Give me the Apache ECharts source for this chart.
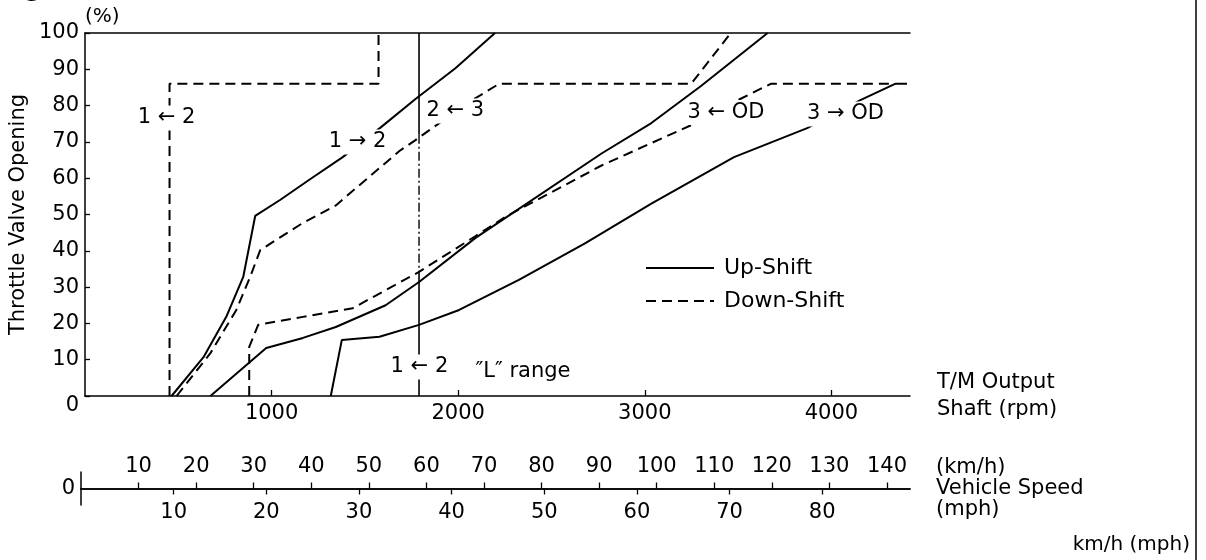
<!DOCTYPE html>
<html><head><meta charset="utf-8">
<script src="https://cdn.jsdelivr.net/npm/echarts@6/dist/echarts.min.js"></script>
<style>html,body{margin:0;padding:0;background:#fff}#c{width:1206px;height:560px}</style>
</head><body><div id="c"></div>
<script>
// ---- tick labels ----
const rpmTicks = [1000, 2000, 3000, 4000];
const kmhTicks = [10, 20, 30, 40, 50, 60, 70, 80, 90, 100, 110, 120, 130, 140];
const mphTicks = [10, 20, 30, 40, 50, 60, 70, 80];
const RPM_MAX = 4421;
const KMH_MAX = 144;
const MPH_MAX = KMH_MAX / 1.609344;

// ---- shift lines: [rpm, throttle %] ----
const up12 = [[464,0],[635,10.7],[757,21.8],[848,32.8],[912,49.6],[1045,54],[1200,59.5],[1381,65.8],[1585,74],[1771,81.8],[1985,90.3],[2197,100]];
const up23 = [[672,0],[971,13.2],[1168,16],[1344,19],[1611,25],[1790,31.4],[2091,43.5],[2251,49],[2768,66.8],[3035,75.2],[3301,85.4],[3658,100]];
const up3od = [[1317,0],[1376,15.4],[1578,16.3],[1790,19.6],[2005,23.7],[2325,32],[2677,42],[3035,53],[3478,65.8],[3870,73.8],[4155,81.5],[4341,86],[4405,86]];
const dn12 = [[453,0],[453,86],[1573,86],[1573,100]];
const dn23 = [[491,0],[672,11.8],[811,23.7],[885,32.8],[939,40.2],[1168,47.7],[1344,52.5],[1685,67.5],[1771,70.5],[1861,73.8],[2091,82],[2219,86],[3248,86],[3461,100]];
const dn3od = [[880,0],[880,13.5],[928,19.6],[1168,21.8],[1435,24.2],[1790,34.2],[2091,44],[2251,49.3],[2768,63.5],[3265,75],[3498,81.5],[3675,86],[4330,86]];
const lRangeTop = [[1790,100],[1790,72]];
const lRangeMid = [[1790,72],[1790,34.5]];
const lRangeLow = [[1790,34.5],[1790,0]];

// ---- curve annotations: [rpm, %, text] ----
const curveLabels = [
  [437, 76.6, '1 ← 2'],
  [1461, 70, '1 → 2'],
  [1984, 78.5, '2 ← 3'],
  [3435, 78.1, '3 ← OD'],
  [4075, 77.7, '3 → OD'],
  [1792, 8, '1 ← 2'],
  [2347, 6.6, '″L″ range']
];

const FONT = 'DejaVu Sans';
const INK = '#000';
const LW = 2;
const DASH = [10, 6];
const FS = 21;

function lineSeries(name, data, type) {
  return {
    type: 'line', name: name, data: data, xAxisIndex: 0, yAxisIndex: 0,
    symbol: 'none', silent: true, animation: false, z: 3,
    itemStyle: { color: 'rgba(0,0,0,0)' },
    lineStyle: { color: INK, width: LW, type: type }
  };
}

const chart = echarts.init(document.getElementById('c'), null, { renderer: 'canvas' });
chart.setOption({
  backgroundColor: '#fff',
  animation: false,
  textStyle: { fontFamily: FONT, color: INK },
  title: {
    text: 'km/h (mph)', right: 16, top: 535, padding: 0,
    textStyle: { fontFamily: FONT, fontSize: 20, fontWeight: 'normal', color: INK }
  },
  legend: {
    data: ['Up-Shift', 'Down-Shift'], orient: 'vertical', left: 640, top: 252,
    itemWidth: 68, itemHeight: 14, itemGap: 11,
    itemStyle: { opacity: 0 },
    textStyle: { fontFamily: FONT, fontSize: 22, color: INK, lineHeight: 20, padding: [0, 0, 0, 5] }
  },
  grid: [
    { left: 81, top: 33, width: 829, height: 363 },
    { left: 81, top: 472, width: 829, height: 33 }
  ],
  xAxis: [
    { type: 'value', gridIndex: 0, position: 'bottom', min: 0, max: RPM_MAX,
      axisLine: { onZero: false, lineStyle: { color: INK, width: 1.5 } },
      axisTick: { inside: true, length: 6, customValues: rpmTicks, lineStyle: { color: INK, width: 1.3 } },
      axisLabel: { customValues: rpmTicks, margin: 7, fontSize: FS, color: INK, fontFamily: FONT,
        formatter: function (v) { return String(v); } },
      splitLine: { show: false },
      name: 'T/M Output\nShaft (rpm)', nameLocation: 'end', nameGap: 27,
      nameTextStyle: { fontFamily: FONT, fontSize: FS, color: INK, lineHeight: 27, align: 'left' } },
    { type: 'value', gridIndex: 0, position: 'top', min: 0, max: RPM_MAX,
      axisLine: { onZero: false, lineStyle: { color: INK, width: 1.5 } },
      axisTick: { show: false }, axisLabel: { show: false }, splitLine: { show: false } },
    { type: 'value', gridIndex: 1, position: 'top', offset: -16.5, min: 0, max: KMH_MAX,
      axisLine: { onZero: false, lineStyle: { color: INK, width: 1.5 } },
      axisTick: { inside: false, length: 6, customValues: kmhTicks, lineStyle: { color: INK, width: 1.3 } },
      axisLabel: { customValues: kmhTicks, margin: 11, fontSize: FS, color: INK, fontFamily: FONT,
        formatter: function (v) { return String(v); } },
      splitLine: { show: false } },
    { type: 'value', gridIndex: 1, position: 'bottom', offset: -16.5, min: 0, max: MPH_MAX,
      axisLine: { onZero: false, lineStyle: { color: INK, width: 1.5 } },
      axisTick: { inside: false, length: 6, customValues: mphTicks, lineStyle: { color: INK, width: 1.3 } },
      axisLabel: { customValues: mphTicks, margin: 14, fontSize: FS, color: INK, fontFamily: FONT,
        formatter: function (v) { return String(v); } },
      splitLine: { show: false },
      name: '(km/h)\nVehicle Speed\n(mph)', nameLocation: 'end', nameGap: 26,
      nameTextStyle: { fontFamily: FONT, fontSize: FS, color: INK, lineHeight: 21, align: 'left', padding: [0, 0, 8, 0] } }
  ],
  yAxis: [
    { type: 'value', gridIndex: 0, position: 'left', min: 0, max: 100, interval: 10,
      axisLine: { show: true, onZero: false, lineStyle: { color: INK, width: 1.5 } },
      axisTick: { show: true, inside: true, length: 5, lineStyle: { color: INK, width: 1.3 } },
      axisLabel: { margin: 6, fontSize: FS, color: INK, fontFamily: FONT,
        formatter: function (v) { return v === 0 ? '{z|0}' : String(v); },
        rich: { z: { fontSize: FS, fontFamily: FONT, color: INK, padding: [20, 0, 0, 0] } } },
      splitLine: { show: false },
      name: '(%)', nameLocation: 'end', nameGap: 6,
      nameTextStyle: { fontFamily: FONT, fontSize: 20, color: INK, align: 'left' } },
    { type: 'value', gridIndex: 0, position: 'left', min: 0, max: 100,
      axisLine: { show: false }, axisTick: { show: false }, axisLabel: { show: false }, splitLine: { show: false },
      name: 'Throttle Valve Opening', nameLocation: 'middle', nameRotate: 90, nameGap: 56,
      nameTextStyle: { fontFamily: FONT, fontSize: FS, color: INK } },
    { type: 'value', gridIndex: 1, position: 'left', min: -1, max: 1,
      axisLine: { show: true, onZero: false, lineStyle: { color: INK, width: 1.5 } },
      axisTick: { show: false },
      axisLabel: { customValues: [0], margin: 6, fontSize: FS, color: INK, fontFamily: FONT, padding: [0, 0, 10, 0] },
      splitLine: { show: false } }
  ],
  series: [
    lineSeries('Up-Shift', up12, 'solid'),
    lineSeries('Up-Shift', up23, 'solid'),
    lineSeries('Up-Shift', up3od, 'solid'),
    lineSeries('Down-Shift', dn12, DASH),
    lineSeries('Down-Shift', dn23, DASH),
    lineSeries('Down-Shift', dn3od, DASH),
    Object.assign(lineSeries('L range', lRangeTop, 'solid'), { lineStyle: { color: INK, width: 1.6 } }),
    Object.assign(lineSeries('L range', lRangeMid, 'solid'), { lineStyle: { color: INK, width: 1.4, type: [9, 3, 2, 3] } }),
    Object.assign(lineSeries('L range', lRangeLow, 'solid'), { lineStyle: { color: INK, width: 1.6 } }),
    { type: 'scatter', name: 'labels', xAxisIndex: 0, yAxisIndex: 0, data: curveLabels,
      symbolSize: 1, itemStyle: { color: 'rgba(0,0,0,0)', opacity: 1 }, silent: true, z: 10,
      encode: { x: 0, y: 1 },
      label: { show: true, position: 'inside', formatter: function (p) { return p.data[2]; },
        fontFamily: FONT, fontSize: FS, color: INK, backgroundColor: '#fff', padding: [2, 3],
        textBorderWidth: 0, opacity: 1 } }
  ],
  graphic: [
    { type: 'line', shape: { x1: 1196, y1: 0, x2: 1196, y2: 560 }, style: { stroke: INK, lineWidth: 1.5 }, silent: true },
    { type: 'text', left: 0, top: -22, style: { text: 'Figure', font: 'bold 24px "DejaVu Sans"', fill: INK }, silent: true }
  ]
});
</script>
</body></html>
